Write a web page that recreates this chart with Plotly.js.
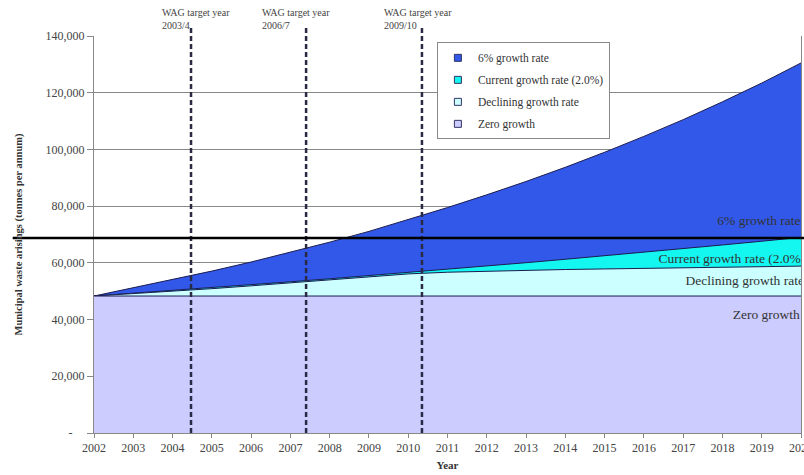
<!DOCTYPE html>
<html>
<head>
<meta charset="utf-8">
<script src="https://cdn.plot.ly/plotly-3.0.1.min.js"></script>
<style>html,body{margin:0;padding:0;background:#fff;}#chart{width:804px;height:475px;}</style>
</head>
<body>
<div id="chart"></div>
<script>
// ---- data ----
const years = [2002,2003,2004,2005,2006,2007,2008,2009,2010,2011,2012,2013,2014,2015,2016,2017,2018,2019,2020];
const growth6 = [48300,51200,54100,57100,60300,63700,67300,71100,75200,79500,84000,88700,93700,99000,104600,110500,116800,123400,130500];
const growthCurrent = [48300,49270,50250,51260,52280,53330,54390,55480,56590,57720,58880,60060,61260,62480,63730,65010,66310,67630,68990];
const growthDeclining = [48300,49100,49950,50900,51900,52900,54000,55050,56100,56700,57100,57400,57650,57850,58050,58250,58450,58650,58850];
const growthZero = [48300,48300,48300,48300,48300,48300,48300,48300,48300,48300,48300,48300,48300,48300,48300,48300,48300,48300,48300];
const seriesNames = ['6% growth rate','Current growth rate (2.0%)','Declining growth rate','Zero growth'];
const yTickVals = [0,20000,40000,60000,80000,100000,120000,140000];
const yTickText = ['-\u00a0\u00a0\u00a0\u00a0','20,000','40,000','60,000','80,000','100,000','120,000','140,000'];
const targetYears = [2004.47, 2007.4, 2010.35];
const targetLabels = ['WAG target year<br>2003/4','WAG target year<br>2006/7','WAG target year<br>2009/10'];
const regionLabels = ['6% growth rate','Current growth rate (2.0%)','Declining growth rate','Zero growth'];
const regionLabelX = [2017.87, 2016.37, 2017.06, 2018.26];
const regionLabelY = [74400, 61000, 53300, 41300];
const markerLineY = 68800;

// ---- style ----
const FONT = 'Liberation Serif, Times New Roman, serif';
const fills = ['#3158e8','#14f7f0','#ccffff','#ccccff'];
const edge = '#1c1c50';
const seriesData = [growth6, growthCurrent, growthDeclining, growthZero];

const traces = seriesData.map((vals, i) => ({
  type: 'scatter', mode: 'lines', x: years, y: vals, name: seriesNames[i],
  fill: 'tozeroy', fillcolor: fills[i], line: {color: edge, width: 1},
  showlegend: false, hoverinfo: 'skip'
}));
// legend entries drawn as small squares, like the reference
seriesNames.forEach((nm, i) => traces.push({
  type: 'scatter', mode: 'markers', x: [null], y: [null], name: nm,
  marker: {symbol: 'square', size: 7, color: fills[i], line: {color: '#333366', width: 1}},
  legendgroup: 'g' + i, hoverinfo: 'skip'
}));
traces.push({
  type: 'scatter', mode: 'text', x: regionLabelX, y: regionLabelY, text: regionLabels,
  textposition: 'middle right', textfont: {family: FONT, size: 13.5, color: '#333'},
  showlegend: false, cliponaxis: true, hoverinfo: 'skip'
});

const shapes = targetYears.map(yr => ({
  type: 'line', xref: 'x', yref: 'paper', x0: yr, x1: yr, y0: 0, y1: 1.02,
  line: {color: '#2a2a44', width: 2.5, dash: '5px,3px'}, layer: 'above'
}));
shapes.push({
  type: 'line', xref: 'paper', yref: 'y', x0: -0.115, x1: 1.02, y0: markerLineY, y1: markerLineY,
  line: {color: '#000', width: 2.5}, layer: 'above'
});

const annShift = [-31, -46, -40];
const annotations = targetYears.map((yr, i) => ({
  xref: 'x', yref: 'paper', x: yr, y: 1.077, xanchor: 'left', yanchor: 'top',
  xshift: annShift[i], text: targetLabels[i], showarrow: false, align: 'left',
  font: {family: FONT, size: 10, color: '#444'}
}));

const layout = {
  width: 804, height: 475,
  margin: {l: 94, r: 3, t: 36, b: 42},
  paper_bgcolor: '#fff', plot_bgcolor: '#fff',
  font: {family: FONT, size: 12, color: '#333'},
  showlegend: true,
  legend: {
    x: 0.485, y: 0.984, xanchor: 'left', yanchor: 'top',
    bgcolor: '#fff', bordercolor: '#888', borderwidth: 1,
    font: {family: FONT, size: 11.5, color: '#333'},
    traceorder: 'grouped', tracegroupgap: 3, itemwidth: 30
  },
  xaxis: {
    range: [2002, 2020], tickvals: years, ticktext: years.map(String),
    ticks: 'outside', ticklen: 4, tickcolor: '#888', showgrid: false, zeroline: false,
    showline: true, linecolor: '#888', linewidth: 1, ticklabeloverflow: 'allow',
    tickfont: {family: FONT, size: 12, color: '#444'}, automargin: false,
    title: {text: '<b>Year</b>', font: {family: FONT, size: 11, color: '#333'}, standoff: 6}
  },
  yaxis: {
    range: [0, 140000], tickvals: yTickVals, ticktext: yTickText,
    ticks: 'outside', ticklen: 6, tickcolor: '#888', showgrid: true, gridcolor: '#888', gridwidth: 1,
    zeroline: false, showline: true, linecolor: '#888', linewidth: 1, mirror: true,
    tickfont: {family: FONT, size: 12, color: '#444'}, automargin: false,
    title: {text: '<b>Municipal waste arisings (tonnes per annum)</b>', font: {family: FONT, size: 10.5, color: '#333'}, standoff: 20}
  },
  shapes: shapes,
  annotations: annotations
};

Plotly.newPlot('chart', traces, layout, {displayModeBar: false, staticPlot: true});
</script>
</body>
</html>
